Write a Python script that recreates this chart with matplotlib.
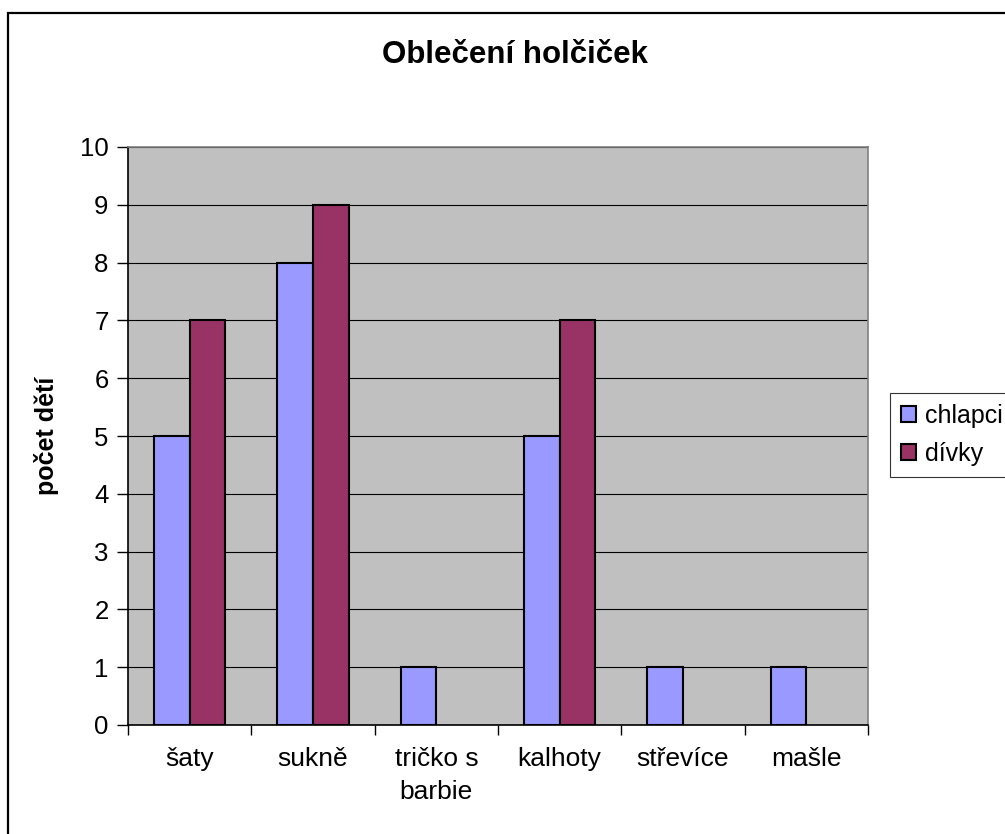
import numpy as np
import matplotlib.pyplot as plt
from matplotlib.patches import Rectangle

plt.rcParams['font.family'] = ['Liberation Sans', 'DejaVu Sans']

categories = ['šaty', 'sukně', 'tričko s\nbarbie', 'kalhoty', 'střevíce', 'mašle']
chlapci = [5, 8, 1, 5, 1, 1]
divky = [7, 9, 0, 7, 0, 0]
series_names = ['chlapci', 'dívky']
colors = ['#9999FF', '#993366']

fig = plt.figure(figsize=(10.05, 8.34), dpi=100)
ax = fig.add_axes([128 / 1005, 109 / 834, 740 / 1005, 578 / 834])
ax.set_facecolor('#C0C0C0')

# outer chart border (cut off on right/bottom like the reference)
fig.patches.append(Rectangle((8 / 1005, -0.1), 1.2, 0.1 + (1 - 13 / 834),
                             transform=fig.transFigure, fill=False,
                             edgecolor='black', linewidth=1.6))

x = np.arange(len(categories))
w = 0.288
for vals, off, col, name in [(chlapci, -w / 2, colors[0], series_names[0]),
                             (divky, w / 2, colors[1], series_names[1])]:
    bars = ax.bar(x + off, vals, w, color=col, edgecolor='black', linewidth=1.5,
                  label=name, zorder=3)
    for b, v in zip(bars, vals):
        if v == 0:
            b.set_linewidth(0)  # empty bars leave no outline

ax.set_xlim(-0.5, len(categories) - 0.5)
ax.set_ylim(0, 10)
ax.set_yticks(range(0, 11))
ax.yaxis.grid(True, color='black', linewidth=0.8, zorder=0)
ax.set_axisbelow(True)

# category boundary ticks, labels at centers
ax.set_xticks(np.arange(-0.5, len(categories)), labels=[])
ax.set_xticks(x, labels=categories, minor=True)
ax.tick_params(axis='x', which='major', length=7, width=1, direction='out')
ax.tick_params(axis='x', which='minor', length=0, pad=16, labelsize=19)
ax.tick_params(axis='y', length=8, width=1, direction='out', pad=6, labelsize=18.5)
for lbl in ax.get_xticklabels(minor=True):
    lbl.set_linespacing(1.45)

for s in ['left', 'bottom']:
    ax.spines[s].set_color('black')
    ax.spines[s].set_linewidth(1.2)
for s in ['top', 'right']:
    ax.spines[s].set_color('#808080')
    ax.spines[s].set_linewidth(1.2)

ax.set_ylabel('počet dětí', fontsize=18, fontweight='bold', labelpad=15)
fig.text(515 / 1005, 1 - 55 / 834, 'Oblečení holčiček', ha='center', va='center',
         fontsize=22.5, fontweight='bold')

leg = fig.legend(loc='upper left', bbox_to_anchor=(890 / 1005, 1 - 393 / 834),
                 fontsize=18, frameon=True, fancybox=False, edgecolor='black',
                 handlelength=0.6, handleheight=0.6, handletextpad=0.35,
                 borderpad=0.45, labelspacing=0.55, borderaxespad=0)
leg.get_frame().set_linewidth(0.8)
for h in leg.legend_handles:
    h.set_linewidth(1.5)

fig.savefig('out.png', dpi=100)
